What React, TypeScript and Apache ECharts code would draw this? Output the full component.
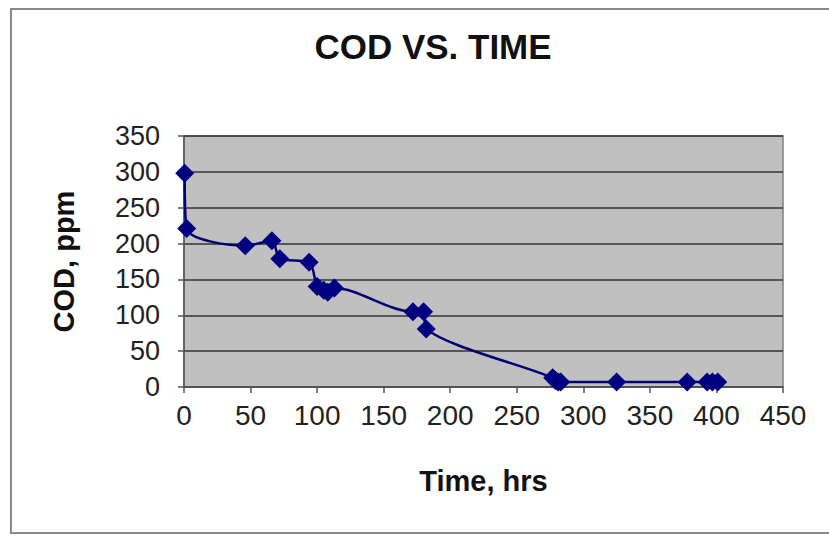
import React, { useEffect, useRef } from "react";
import * as echarts from "echarts";

const timeHrs = [0.5, 2, 46, 66, 72, 94, 100, 105, 108, 113, 172, 180, 182, 277, 279, 281, 283, 325, 378, 393, 397, 401];
const codPpm = [298, 221, 197, 204, 179, 174, 140, 135, 132, 138, 105, 105, 81, 13, 9, 7, 7, 7, 7, 7, 7, 7];
const titleText = "COD VS. TIME";
const xName = "Time, hrs";
const yName = "COD, ppm";

const FONT = "'Liberation Sans', Arial, sans-serif";

export default function App() {
  const ref = useRef<HTMLDivElement>(null);
  useEffect(() => {
    if (!ref.current) return;
    const chart = echarts.init(ref.current, undefined, { renderer: "svg" });
    const points = timeHrs.map((t, i) => [t, codPpm[i]]);
    chart.setOption({
      animation: false,
      backgroundColor: "#ffffff",
      title: {
        text: titleText,
        left: 428,
        top: 24,
        textAlign: "center",
        textStyle: { fontFamily: FONT, fontSize: 35, fontWeight: "bold", color: "#111" },
      },
      graphic: [
        {
          type: "rect",
          shape: { x: 11, y: 9, width: 840, height: 524 },
          style: { fill: "none", stroke: "#8a8a8a", lineWidth: 2 },
          z: -1,
        },
      ],
      grid: {
        left: 184,
        right: 46,
        top: 136,
        bottom: 149,
        show: true,
        backgroundColor: "#c0c0c0",
        borderColor: "#808080",
        borderWidth: 1.5,
      },
      xAxis: {
        type: "value",
        min: 0,
        max: 450,
        interval: 50,
        name: xName,
        nameLocation: "middle",
        nameGap: 79,
        nameTextStyle: { fontFamily: FONT, fontSize: 29, fontWeight: "bold", color: "#111" },
        axisLine: { show: true, onZero: false, lineStyle: { color: "#555", width: 1.5 } },
        axisTick: { show: true, length: 6, lineStyle: { color: "#555", width: 1.5 } },
        axisLabel: { fontFamily: FONT, fontSize: 28, color: "#222", margin: 14 },
        splitLine: { show: false },
      },
      yAxis: {
        type: "value",
        min: 0,
        max: 350,
        interval: 50,
        name: yName,
        nameLocation: "middle",
        nameGap: 106,
        nameTextStyle: { fontFamily: FONT, fontSize: 29, fontWeight: "bold", color: "#111" },
        axisLine: { show: true, lineStyle: { color: "#555", width: 1.5 } },
        axisTick: { show: true, length: 6, lineStyle: { color: "#555", width: 1.5 } },
        axisLabel: { fontFamily: FONT, fontSize: 27, color: "#222", margin: 24 },
        splitLine: { show: true, lineStyle: { color: "#333", width: 1.5 } },
      },
      series: [
        {
          type: "line",
          data: points,
          smooth: 0.3,
          clip: false,
          symbol: "diamond",
          symbolSize: 19,
          lineStyle: { color: "#000070", width: 2.5 },
          itemStyle: { color: "#000080" },
        },
      ],
    });
    return () => chart.dispose();
  }, []);
  return (
    <div
      ref={ref}
      style={{ position: "fixed", left: 0, top: 0, width: 829, height: 536 }}
    />
  );
}
